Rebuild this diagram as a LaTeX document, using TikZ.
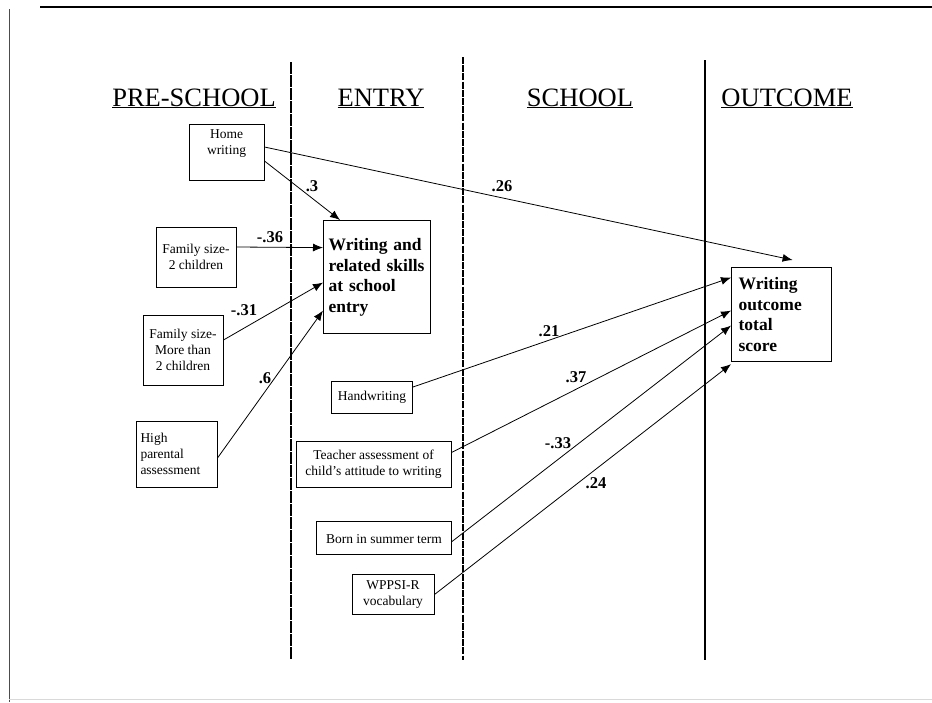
\documentclass[tikz,border=0pt]{standalone}
\usepackage{fontspec}
\setmainfont{Liberation Serif}
\usetikzlibrary{arrows.meta,calc}
\tikzset{
  box/.style={draw, line width=1pt, inner sep=2pt, font=\fontsize{13.5}{16}\selectfont},
  bbox/.style={draw, line width=1.2pt, inner sep=6pt, font=\bfseries\fontsize{17.5}{20.5}\selectfont, align=left},
  hdr/.style={anchor=base, font=\fontsize{26.5}{28}\selectfont, inner sep=0pt},
  lbl/.style={font=\bfseries\fontsize{16.5}{18}\selectfont, inner sep=0pt},
  conn/.style={line width=0.8pt, -{Latex[length=10pt,width=8pt]}},
  divider/.style={line width=1.4pt},
}
\begin{document}
\begin{tikzpicture}[x=1pt,y=-1pt]
\useasboundingbox (0,0) rectangle (932,702);
% frame
\draw[line width=2.5pt] (40,7) -- (932,7);
\draw[line width=0.8pt, black!70] (9,9) -- (9,702);
\draw[line width=0.6pt, black!15] (9,699) -- (932,699);
% dividers
\draw[divider, dash pattern=on 12pt off 1pt] (291,62) -- (291,660);
\draw[divider, dash pattern=on 7pt off 1.2pt] (463,57) -- (463,660);
\draw[divider] (705,60) -- (705,660);
% headers
\node[hdr] (h1) at (194,106) {\underline{PRE-SCHOOL}};
\node[hdr] (h2) at (381,106) {\underline{ENTRY}};
\node[hdr] (h3) at (580,106) {\underline{SCHOOL}};
\node[hdr] (h4) at (787,106) {\underline{OUTCOME}};
% boxes
\node[box, minimum width=75pt, minimum height=56pt, align=center] (home) at (226.5,152) {Home\\writing\\[3pt]~};
\node[box, minimum width=80pt, minimum height=60pt, align=center] (fam2) at (196,257) {Family size-\\2 children};
\node[box, minimum width=80pt, minimum height=70pt, align=center] (fam3) at (183,350) {Family size-\\More than\\2 children};
\node[box, minimum width=81pt, minimum height=66pt, text width=72pt, align=left] (high) at (176.5,454) {High\\parental\\assessment};
\node[bbox, minimum width=107pt, minimum height=113pt, text width=97pt, inner sep=5pt, anchor=north west] (skills) at (323,220) {Writing and\\related skills\\at school\\entry};
\node[box, minimum width=81pt, minimum height=32pt, align=center] (hand) at (372,397) {Handwriting};
\node[box, minimum width=155pt, minimum height=46pt, align=center] (teacher) at (373.5,464) {Teacher assessment of\\child’s attitude to writing};
\node[box, minimum width=135pt, minimum height=33pt, align=center] (born) at (384,538) {~\\[-5pt]Born in summer term};
\node[box, minimum width=82pt, minimum height=40pt, align=center] (wppsi) at (393,594.5) {WPPSI-R\\vocabulary};
\node[bbox, minimum width=100pt, minimum height=94pt, text width=86pt, anchor=north west] (outcome) at (731,267) {Writing\\outcome\\total\\score};
% connectors
\draw[conn] ($(home.east)+(0,9)$) -- ($(skills.north west)+(17,0)$);
\draw[conn] ($(home.east)+(0,-5)$) -- ($(outcome.north)+(11,-7)$);
\draw[conn] ($(fam2.east)+(0,-10)$) -- ($(skills.west)+(0,-29.5)$);
\draw[conn] ($(fam3.east)+(0,-10)$) -- ($(skills.west)+(0,5.5)$);
\draw[conn] ($(high.east)+(0,4)$) -- ($(skills.west)+(0,33.5)$);
\draw[conn] ($(hand.east)+(0,-10)$) -- ($(outcome.west)+(0,-37)$);
\draw[conn] ($(teacher.east)+(0,-11.5)$) -- ($(outcome.west)+(0,-4)$);
\draw[conn] ($(born.east)+(0,3.5)$) -- ($(outcome.west)+(0,11)$);
\draw[conn] (wppsi.east) -- ($(outcome.south west)+(0,2)$);
% labels
\node[lbl] (l1) at (312,186) {.3};
\node[lbl] (l2) at (502,186) {.26};
\node[lbl] (l3) at (270,237) {-.36};
\node[lbl] (l4) at (244,310) {-.31};
\node[lbl] (l5) at (265,378) {.6};
\node[lbl] (l6) at (549,331) {.21};
\node[lbl] (l7) at (576,377) {.37};
\node[lbl] (l8) at (558,443) {-.33};
\node[lbl] (l9) at (596,483) {.24};
\end{tikzpicture}
\end{document}
